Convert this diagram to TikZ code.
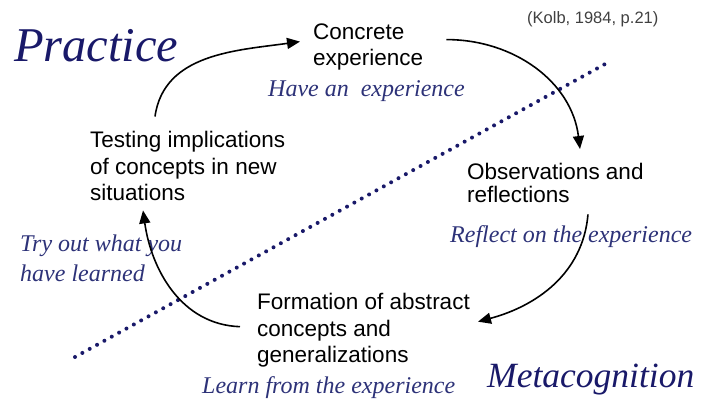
\documentclass[tikz,border=0pt]{standalone}
\usepackage{fontspec}
\setmainfont{Liberation Serif}
\setsansfont{Liberation Sans}
\usetikzlibrary{arrows.meta}
\definecolor{navy}{RGB}{25,25,105}
\definecolor{slate}{RGB}{45,50,120}

\begin{document}
\begin{tikzpicture}[x=1pt, y=1pt,
        stage/.style={anchor=base west, inner sep=0pt, align=left, font=\sffamily\fontsize{22.5}{26.5}\selectfont},
        hint/.style={anchor=base west, inner sep=0pt, align=left, text=slate, font=\itshape\fontsize{24}{30}\selectfont},
        side/.style={anchor=base west, inner sep=0pt, text=navy, font=\itshape},
        cycle/.style={line width=1.6pt, -{Triangle[length=13pt, width=11pt]}}]
    \useasboundingbox (0, 0) rectangle (713, 402);
    % the two halves
    \node[side, font=\itshape\fontsize{48.5}{52}\selectfont] (practice) at (14, 340) {Practice};
    \node[side, font=\itshape\fontsize{35.5}{40}\selectfont] (meta) at (487, 14) {Metacognition};
    \node[anchor=base west, inner sep=0pt, text=black!75, font=\sffamily\fontsize{16.5}{18}\selectfont] (kolb) at (527, 378) {(Kolb, 1984, p.21)};
    % the four stages (base = last line)
    \node[stage] (concrete) at (313, 336) {Concrete\\experience};
    \node[stage, font=\sffamily\fontsize{22.5}{23.5}\selectfont] (observ) at (467, 199) {Observations and\\reflections};
    \node[stage] (formation) at (257, 39) {Formation of abstract\\concepts and\\generalizations};
    \node[stage] (testing) at (90, 201) {Testing implications\\of concepts in new\\situations};
    % what to do at each stage
    \node[hint] (have) at (268, 305) {Have an\ \ experience};
    \node[hint] (reflect) at (450, 159) {Reflect on the experience};
    \node[hint] (learn) at (202, 9) {Learn from the experience};
    \node[hint] (tryout) at (20, 120) {Try out what you\\have learned};
    % dividing line
    \coordinate (dotA) at (75, 45);
    \coordinate (dotB) at (607, 339);
    \draw[navy, line width=4pt, line cap=round, dash pattern=on 0pt off 8.4pt] (dotA) -- (dotB);
    % the cycle
    \draw[cycle] ([shift={(65, 15)}]testing.north west) to[out=82, in=188] ([shift={(-13, -18)}]concrete.north west);
    \draw[cycle] ([shift={(23, -16)}]concrete.north east) to[out=0, in=97] ([shift={(113, 14)}]observ.north west);
    \draw[cycle] ([shift={(121, -11)}]observ.south west) to[out=-95, in=15] ([shift={(8, 9)}]formation.east);
    \draw[cycle] ([shift={(-17, 4)}]formation.west) to[out=178, in=-82] ([shift={(53, -9)}]testing.south west);
\end{tikzpicture}
\end{document}
